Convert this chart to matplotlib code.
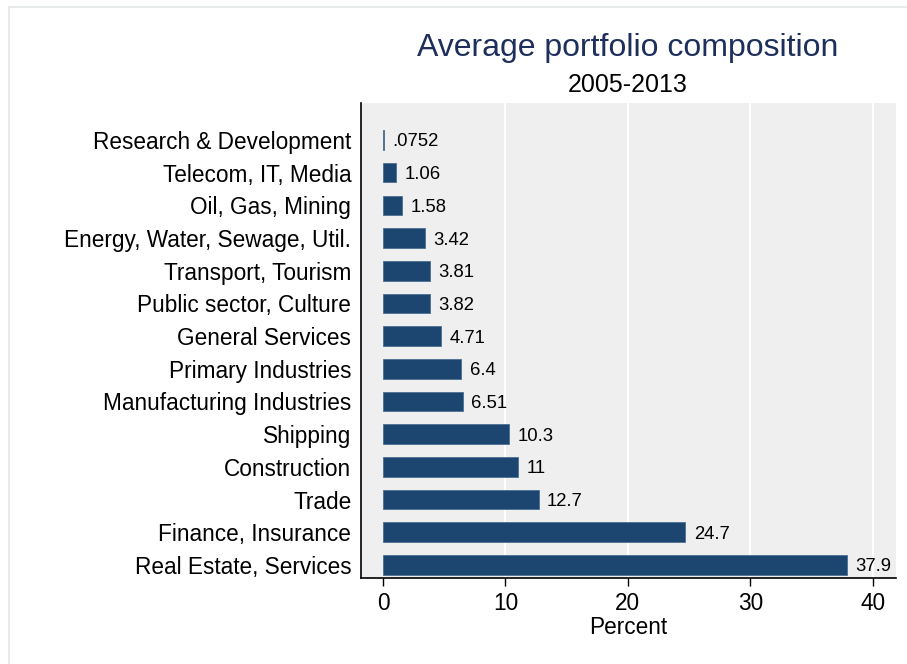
import matplotlib.pyplot as plt
from matplotlib.patches import Rectangle
import numpy as np

plt.rcParams['font.family'] = ['Liberation Sans', 'DejaVu Sans']

# data, top to bottom
sectors = ['Research & Development', 'Telecom, IT, Media', 'Oil, Gas, Mining',
           'Energy, Water, Sewage, Util.', 'Transport, Tourism',
           'Public sector, Culture', 'General Services', 'Primary Industries',
           'Manufacturing Industries', 'Shipping', 'Construction', 'Trade',
           'Finance, Insurance', 'Real Estate, Services']
shares = [0.0752, 1.06, 1.58, 3.42, 3.81, 3.82, 4.71, 6.4, 6.51, 10.3, 11, 12.7, 24.7, 37.9]
share_labels = ['.0752', '1.06', '1.58', '3.42', '3.81', '3.82', '4.71', '6.4',
                '6.51', '10.3', '11', '12.7', '24.7', '37.9']
xticks = [0, 10, 20, 30, 40]

W, H = 907, 664
fig = plt.figure(figsize=(W / 100, H / 100), dpi=100)
fig.patch.set_facecolor('white')

# thin outer frame of the graph region (runs off right and bottom)
fig.patches.append(Rectangle((9 / W, -0.05), 1.1, 1.05 - 7 / H, transform=fig.transFigure,
                             fill=False, edgecolor='#e4e8e8', linewidth=1.2))

# plot area in pixels: left 361, right 896, top 103, bottom 578
ax = fig.add_axes([361 / W, 1 - 578 / H, (896 - 361) / W, (578 - 103) / H])
ax.set_facecolor('#efefef')

pos = np.arange(len(sectors))
ax.barh(pos, shares, height=0.6, color='#1c466f', edgecolor='#4a6f93', linewidth=0.6, zorder=3)
for p, v, s in zip(pos, shares, share_labels):
    ax.text(v + 0.7, p, s, va='center_baseline', ha='left', fontsize=13.3, color='black', zorder=4)

ax.set_xlim(-1.8, 41.9)
ax.set_ylim(13.4, -1.13)
ax.set_yticks(pos)
ax.set_yticklabels(sectors, fontsize=16.3)
ax.tick_params(axis='y', length=0, pad=7)
ax.set_xticks(xticks)
ax.set_xticklabels([str(t) for t in xticks], fontsize=16.3)
ax.tick_params(axis='x', length=6, width=1, pad=4)

for t in xticks[1:]:
    ax.axvline(t, color='white', linewidth=1.5, zorder=1)

for side in ['top', 'right']:
    ax.spines[side].set_visible(False)
ax.spines['left'].set_linewidth(1.2)
ax.spines['bottom'].set_linewidth(1.2)

ax.set_xlabel('Percent', fontsize=16.3, labelpad=1)

fig.text(628 / W, 1 - 48 / H, 'Average portfolio composition', ha='center', va='center',
         fontsize=23, color='#1e2f5c')
fig.text(628 / W, 1 - 85 / H, '2005-2013', ha='center', va='center', fontsize=18, color='black')

fig.savefig('out.png', dpi=100)
